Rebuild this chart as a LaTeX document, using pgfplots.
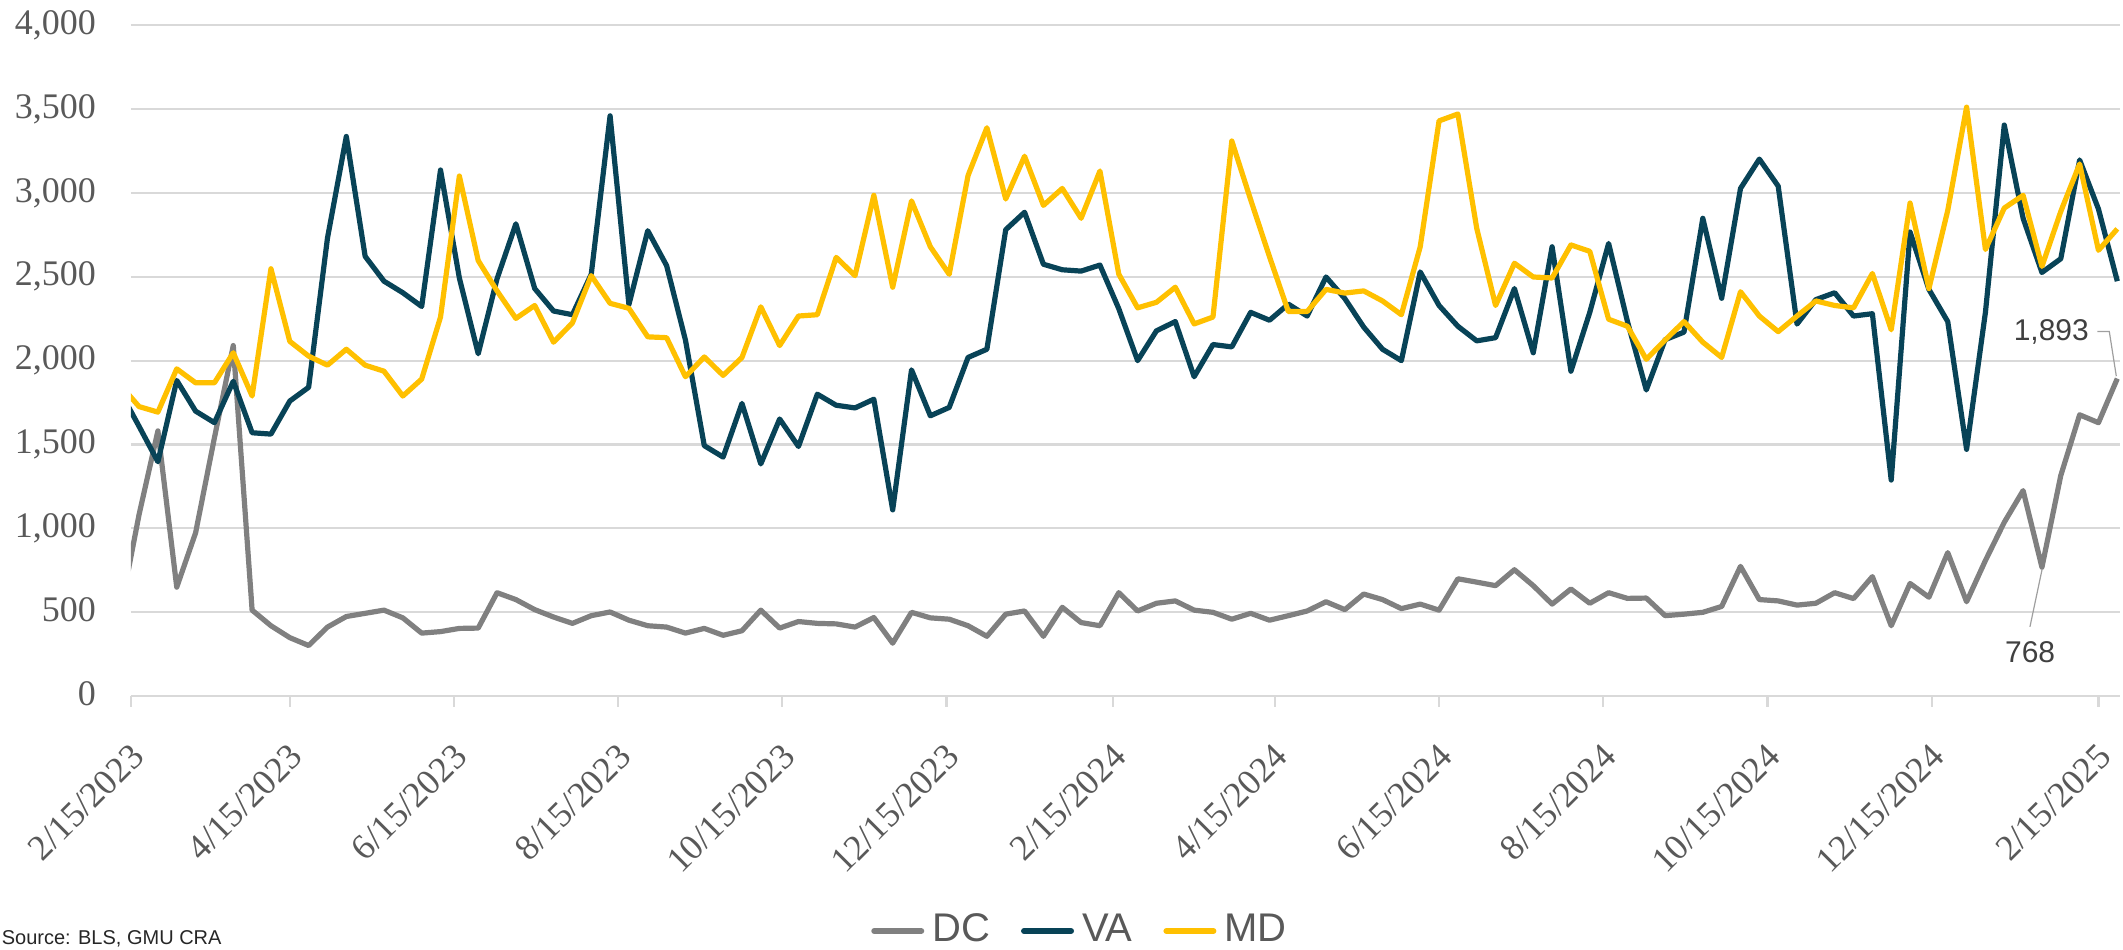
\documentclass[border=0pt]{standalone}
\usepackage{pgfplots}
\pgfplotsset{compat=1.18}
\usepackage{pgfplotstable}
\usepackage{fontspec}
\setmainfont{Liberation Serif}
\newfontfamily\sansf{Liberation Sans}
\definecolor{dcgray}{HTML}{808080}
\definecolor{vateal}{HTML}{084357}
\definecolor{mdgold}{HTML}{FFC000}
\definecolor{gridc}{HTML}{D9D9D9}
\definecolor{labc}{HTML}{595959}
\definecolor{annc}{HTML}{404040}
\pgfplotstableread{
day dc va md
-4 500 1815 1855
3 1082 1608 1726
10 1581 1397 1693
17 649 1882 1951
24 973 1699 1868
31 1540 1630 1868
38 2090 1877 2047
45 512 1570 1789
52 419 1562 2548
59 348 1759 2115
66 301 1841 2027
73 411 2731 1973
80 474 3337 2068
87 493 2622 1973
94 512 2474 1937
101 466 2405 1789
108 375 2323 1890
115 384 3137 2260
122 403 2493 3101
129 405 2041 2597
136 616 2488 2416
143 575 2816 2252
150 515 2430 2329
157 471 2296 2110
164 433 2274 2225
171 479 2515 2507
178 501 3460 2342
185 452 2335 2312
192 419 2775 2142
199 411 2567 2137
206 375 2123 1904
213 403 1493 2022
220 362 1425 1912
227 389 1745 2019
234 512 1384 2321
241 405 1652 2090
248 444 1488 2266
255 433 1800 2274
262 430 1734 2616
269 411 1718 2507
276 468 1770 2986
283 315 1110 2438
290 499 1945 2953
297 466 1671 2679
304 458 1721 2515
311 419 2019 3104
318 356 2068 3389
325 488 2781 2964
332 507 2885 3219
339 356 2575 2926
346 529 2542 3027
353 438 2534 2849
360 419 2570 3131
367 616 2310 2516
374 507 2000 2315
381 553 2178 2348
388 567 2233 2438
395 512 1904 2219
402 499 2096 2260
409 458 2082 3310
416 493 2288 2960
423 452 2241 2620
430 479 2337 2293
437 507 2266 2293
444 562 2499 2425
451 515 2370 2403
458 608 2200 2416
465 575 2068 2356
472 521 2000 2274
479 548 2529 2679
486 512 2329 3430
493 699 2205 3471
500 679 2118 2789
507 658 2137 2329
514 753 2430 2581
521 658 2047 2499
528 548 2679 2493
535 638 1937 2690
542 553 2288 2652
549 616 2699 2247
556 582 2233 2205
563 584 1825 2008
570 479 2125 2123
577 488 2170 2233
584 499 2849 2110
591 534 2372 2019
598 773 3027 2411
605 575 3202 2266
612 567 3041 2173
619 542 2218 2266
626 553 2364 2356
633 616 2405 2329
640 581 2266 2315
647 712 2280 2520
654 419 1288 2184
661 671 2767 2940
668 589 2425 2430
675 855 2233 2896
682 562 1471 3512
689 808 2288 2663
696 1036 3405 2910
703 1225 2849 2986
710 768 2526 2562
717 1315 2608 2890
724 1677 3197 3173
731 1630 2904 2658
738 1893 2474 2786
}\data

\begin{document}
\begin{tikzpicture}
\begin{axis}[
  at={(0,0)}, anchor=south west,
  scale only axis, width=497.25pt, height=167.675pt,
  xmin=0, xmax=739, ymin=0, ymax=4000,
  xtick={0,59,120,181,242,303,365,425,486,547,608,669,731},
  xticklabels={2/15/2023,4/15/2023,6/15/2023,8/15/2023,10/15/2023,12/15/2023,2/15/2024,4/15/2024,6/15/2024,8/15/2024,10/15/2024,12/15/2024,2/15/2025},
  ytick={0,500,...,4000},
  ymajorgrids,
  grid style={gridc, line width=0.55pt},
  axis x line*=bottom, axis y line*=left,
  x axis line style={gridc, line width=0.55pt, -},
  y axis line style={draw=none},
  major tick length=2.75pt,
  tick align=outside,
  xtick style={gridc, line width=0.55pt},
  ytick style={draw=none},
  xticklabel style={font=\fontsize{9}{10}\selectfont, text=labc, inner sep=0pt, yshift=-10.75pt, xshift=1.75pt, rotate=45, anchor=east},
  yticklabel style={font=\fontsize{9}{10}\selectfont, text=labc, inner sep=0pt, anchor=mid east, xshift=-5.85pt},
  /pgf/number format/1000 sep={,},
  /pgf/number format/assume math mode=true,
  legend columns=3,
  legend style={at={(0.4786,-0.3504)}, anchor=center, draw=none, fill=none,
    font=\sansf\fontsize{10}{12}\selectfont, text=labc,
    /tikz/every even column/.append style={column sep=5.75pt}},
  legend image code/.code={\draw[#1, line width=1.5pt, line cap=round] (0pt,0pt) -- (11.75pt,0pt);},
  every axis plot/.append style={line width=1.3pt, line join=round, no markers},
]
\addplot[dcgray] table[x=day, y=dc] {\data};
\addlegendentry{DC}
\addplot[vateal] table[x=day, y=va] {\data};
\addlegendentry{VA}
\addplot[mdgold] table[x=day, y=md] {\data};
\addlegendentry{MD}
\coordinate (a1) at (axis cs:738,1893);
\coordinate (a2) at (axis cs:710,768);
\end{axis}
\draw[gray!75, line width=0.3pt] ([shift={(-5pt,11.75pt)}]a1) -- ([shift={(-2pt,11.75pt)}]a1) -- ([shift={(-0.25pt,0.6pt)}]a1);
\node[font=\sansf\fontsize{7.5}{9}\selectfont, text=annc, inner sep=0pt] at ([shift={(-16.5pt,11.75pt)}]a1) {1,893};
\draw[gray!75, line width=0.3pt] ([shift={(0pt,-0.7pt)}]a2) -- ([shift={(-3pt,-14.9pt)}]a2);
\node[font=\sansf\fontsize{7.5}{9}\selectfont, text=annc, inner sep=0pt] at ([shift={(-2.95pt,-21.2pt)}]a2) {768};
\node[anchor=base west, font=\sansf\fontsize{5}{6}\selectfont, text=black!85, inner sep=0pt] at (-32.5pt,-62.25pt) {Source: BLS, GMU CRA};
\pgfresetboundingbox
\path (-32.75pt,-63.5pt) rectangle (498pt,174pt);
\end{tikzpicture}
\end{document}
